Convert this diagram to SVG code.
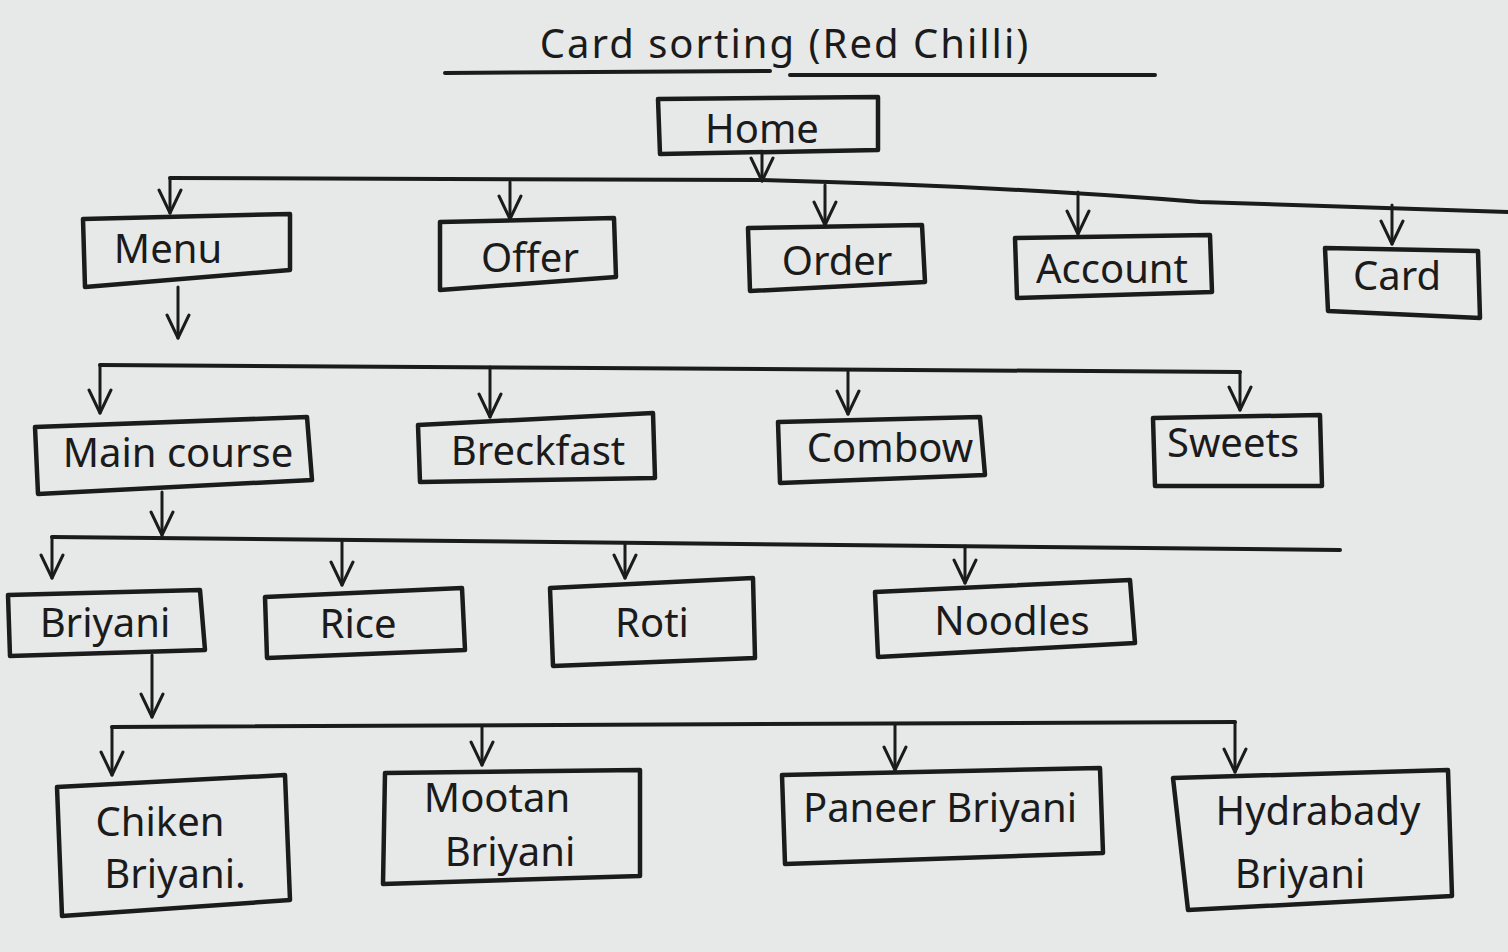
<svg xmlns="http://www.w3.org/2000/svg" width="1508" height="952" viewBox="0 0 1508 952">
<defs>
<marker id="ah" viewBox="0 0 28 28" refX="26" refY="14" markerWidth="28" markerHeight="28" markerUnits="userSpaceOnUse" orient="auto">
<polyline points="3,3 26,14 3,25" fill="none" stroke="#1b1b1b" stroke-width="3" stroke-linecap="round" stroke-linejoin="round"/>
</marker>
<style>
.bx{fill:none;stroke:#1b1b1b;stroke-width:4.5;stroke-linejoin:round}
.ln{fill:none;stroke:#1b1b1b;stroke-width:4;stroke-linecap:round;stroke-linejoin:round}
.ar{fill:none;stroke:#1b1b1b;stroke-width:3;stroke-linecap:round;marker-end:url(#ah)}
.t{font-family:"Noto Sans","DejaVu Sans",sans-serif;fill:#1b1b1b;text-anchor:middle;font-size:40px}
</style>
</defs>
<rect width="1508" height="952" fill="#e7e9e8"/>
<g id="title">
<text class="t" x="785" y="58" font-size="48" letter-spacing="2">Card sorting  (Red Chilli)</text>
<path class="ln" d="M445,73 L770,71 M790,75 L1155,75"/>
</g>
<g id="connectors">
<line class="ar" x1="762" y1="153" x2="762" y2="181"/>
<path class="ln" d="M170,178 L760,180 Q1000,186 1200,202 L1508,212"/>
<line class="ar" x1="170" y1="178" x2="170" y2="213"/>
<line class="ar" x1="510" y1="182" x2="510" y2="219"/>
<line class="ar" x1="825" y1="185" x2="825" y2="225"/>
<line class="ar" x1="1078" y1="192" x2="1078" y2="234"/>
<line class="ar" x1="1392" y1="205" x2="1392" y2="244"/>
<line class="ar" x1="178" y1="287" x2="178" y2="338"/>
<path class="ln" d="M100,365 L1240,372"/>
<line class="ar" x1="100" y1="365" x2="100" y2="413"/>
<line class="ar" x1="490" y1="367" x2="490" y2="417"/>
<line class="ar" x1="848" y1="370" x2="848" y2="414"/>
<line class="ar" x1="1240" y1="372" x2="1240" y2="410"/>
<line class="ar" x1="162" y1="492" x2="162" y2="535"/>
<path class="ln" d="M52,537 L1340,550"/>
<line class="ar" x1="52" y1="537" x2="52" y2="578"/>
<line class="ar" x1="342" y1="540" x2="342" y2="585"/>
<line class="ar" x1="625" y1="543" x2="625" y2="578"/>
<line class="ar" x1="965" y1="546" x2="965" y2="583"/>
<line class="ar" x1="152" y1="655" x2="152" y2="717"/>
<path class="ln" d="M112,727 L1235,722"/>
<line class="ar" x1="112" y1="727" x2="112" y2="775"/>
<line class="ar" x1="482" y1="726" x2="482" y2="765"/>
<line class="ar" x1="895" y1="724" x2="895" y2="770"/>
<line class="ar" x1="1235" y1="722" x2="1235" y2="772"/>
</g>
<g id="home"><polygon class="bx" points="658,99 878,97 878,150 660,154"/><text class="t" x="762" y="143" font-size="50">Home</text></g>
<g id="menu"><polygon class="bx" points="83,219 290,214 290,270 85,287"/><text class="t" x="168" y="263">Menu</text></g>
<g id="offer"><polygon class="bx" points="440,222 614,218 616,277 440,290"/><text class="t" x="530" y="272" font-size="42">Offer</text></g>
<g id="order"><polygon class="bx" points="748,228 922,225 925,282 750,291"/><text class="t" x="837" y="275">Order</text></g>
<g id="account"><polygon class="bx" points="1015,238 1210,235 1212,292 1017,298"/><text class="t" x="1112" y="283" font-size="42">Account</text></g>
<g id="card"><polygon class="bx" points="1325,248 1478,251 1480,318 1328,311"/><text class="t" x="1397" y="290" font-size="36">Card</text></g>
<g id="main-course"><polygon class="bx" points="35,427 307,417 312,480 38,494"/><text class="t" x="178" y="467" font-size="38">Main course</text></g>
<g id="breckfast"><polygon class="bx" points="418,425 653,413 655,478 420,482"/><text class="t" x="538" y="465" font-size="38">Breckfast</text></g>
<g id="combow"><polygon class="bx" points="778,422 980,417 985,475 780,483"/><text class="t" x="890" y="462">Combow</text></g>
<g id="sweets"><polygon class="bx" points="1153,418 1320,415 1322,486 1155,486"/><text class="t" x="1233" y="457" font-size="38">Sweets</text></g>
<g id="briyani"><polygon class="bx" points="8,595 200,590 205,650 10,656"/><text class="t" x="105" y="637" font-size="38">Briyani</text></g>
<g id="rice"><polygon class="bx" points="265,597 462,588 465,650 267,658"/><text class="t" x="358" y="638" font-size="40">Rice</text></g>
<g id="roti"><polygon class="bx" points="550,588 753,578 755,658 553,666"/><text class="t" x="652" y="637" font-size="44">Roti</text></g>
<g id="noodles"><polygon class="bx" points="875,592 1130,580 1135,643 878,657"/><text class="t" x="1012" y="635" font-size="42">Noodles</text></g>
<g id="chiken-briyani"><polygon class="bx" points="57,787 285,775 290,900 62,916"/><text class="t" x="160" y="836" font-size="40">Chiken</text><text class="t" x="175" y="888" font-size="40">Briyani.</text></g>
<g id="mootan-briyani"><polygon class="bx" points="385,773 640,770 640,876 383,884"/><text class="t" x="497" y="812" font-size="38">Mootan</text><text class="t" x="510" y="866" font-size="38">Briyani</text></g>
<g id="paneer-briyani"><polygon class="bx" points="782,775 1100,768 1103,853 785,864"/><text class="t" x="940" y="822" font-size="38">Paneer Briyani</text></g>
<g id="hydrabady-briyani"><polygon class="bx" points="1173,778 1448,770 1452,896 1188,910"/><text class="t" x="1318" y="825" font-size="40">Hydrabady</text><text class="t" x="1300" y="888" font-size="40">Briyani</text></g>
</svg>
